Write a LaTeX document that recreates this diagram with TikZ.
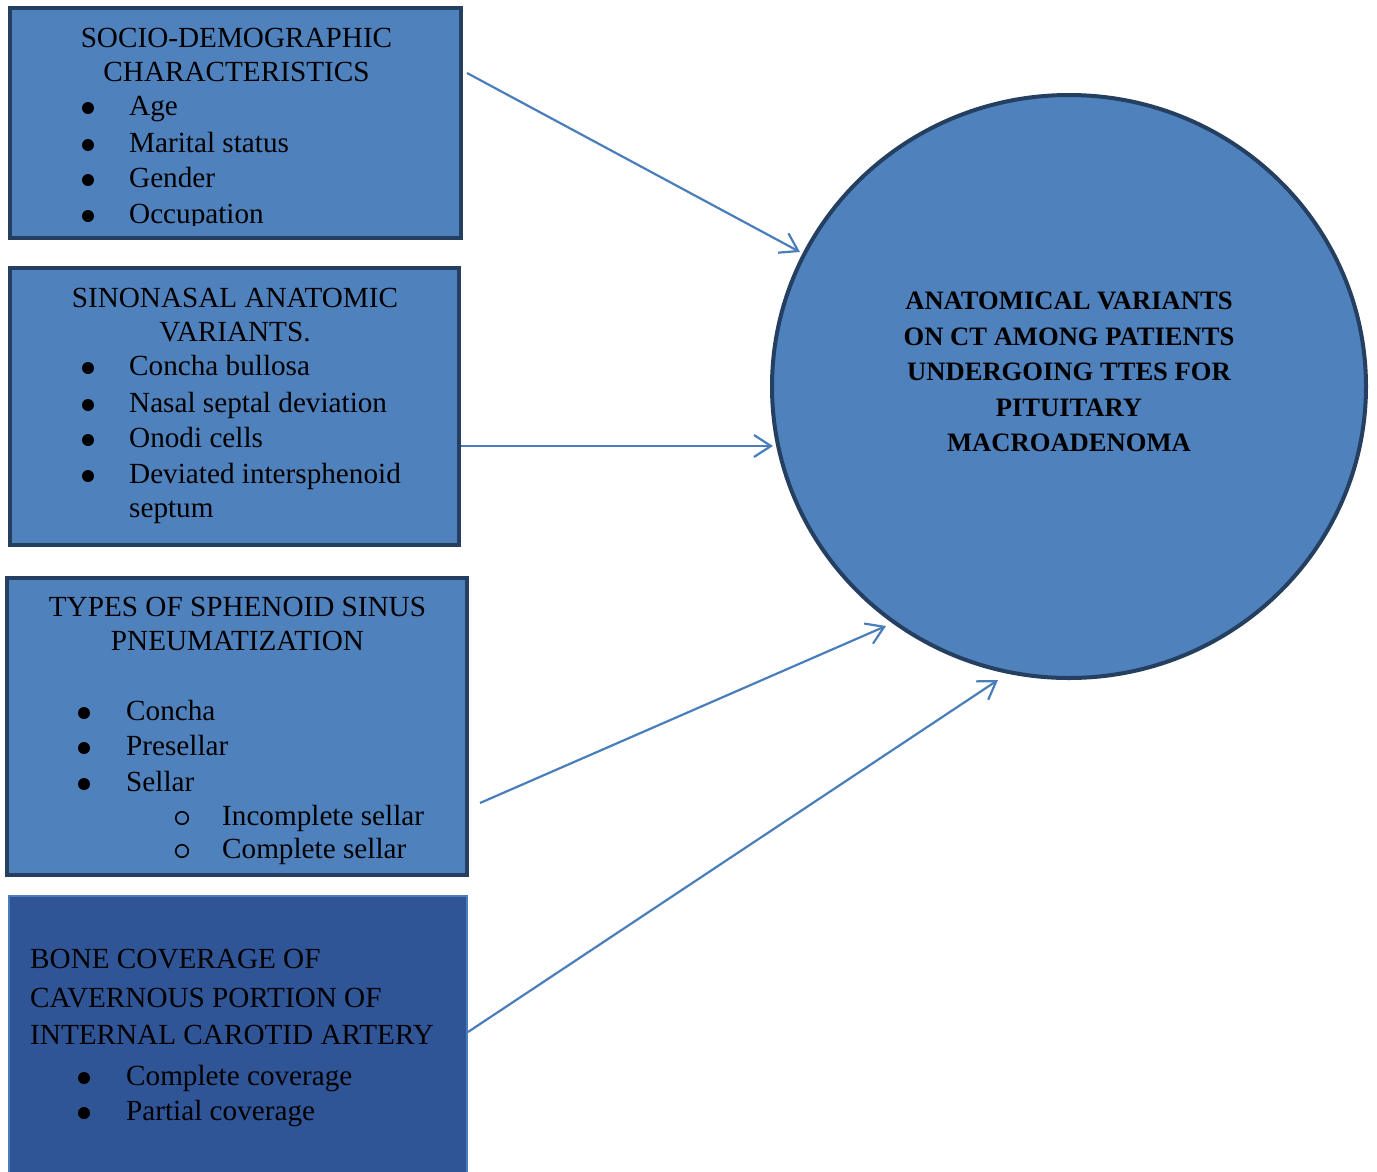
\documentclass[tikz,border=0pt]{standalone}
\usepackage{fontspec}
\setmainfont{Liberation Serif}
\usetikzlibrary{arrows.meta,shapes.geometric}
\definecolor{fillblue}{HTML}{4F81BD}
\definecolor{navy}{HTML}{243F60}
\definecolor{darkfill}{HTML}{2F5597}
\definecolor{arrowblue}{HTML}{4A7EBB}
\begin{document}
\begin{tikzpicture}[x=1pt,y=-1pt,
  box/.style={rectangle,draw=navy,line width=4pt,fill=fillblue,inner sep=0pt},
  darkbox/.style={rectangle,draw=arrowblue,line width=2pt,fill=darkfill,inner sep=0pt},
  ttl/.style={font=\fontsize{29.2}{34}\selectfont,inner sep=0pt,anchor=base},
  txt/.style={font=\fontsize{29.2}{34}\selectfont,inner sep=0pt,anchor=base west},
  bul/.style={circle,fill=black,inner sep=0pt,minimum size=12pt,yshift=7pt},
  sub/.style={circle,draw=black,line width=1.6pt,inner sep=0pt,minimum size=12.5pt,yshift=7pt},
  ctx/.style={font=\fontsize{26.6}{31}\selectfont\bfseries,inner sep=0pt,anchor=base},
  conn/.style={draw=arrowblue,line width=2.2pt,-{Straight Barb[length=17pt,width=22pt,line width=2.2pt]}}]
\useasboundingbox (0,0) rectangle (1377,1171);
\clip (0,0) rectangle (1377,1171);

% boxes
\node[box,minimum width=451pt,minimum height=230pt] (b1) at (235.5,123) {};
\node[box,minimum width=449pt,minimum height=277pt] (b2) at (234.5,406.5) {};
\node[box,minimum width=460pt,minimum height=297pt] (b3) at (237,726.5) {};
\node[darkbox,minimum width=458pt,minimum height=290pt] (b4) at (238,1041) {};
\node[ellipse,draw=navy,line width=4pt,fill=fillblue,inner sep=0pt,
      minimum width=594pt,minimum height=583pt] (circ) at (1069,386.5) {};

% box 1 text
\begin{scope}
\clip (10,8) rectangle (461,225.5);
\node[ttl] (b1t1) at (236.5,47) {SOCIO-DEMOGRAPHIC};
\node[ttl] (b1t2) at (236.5,81) {CHARACTERISTICS};
\node[bul] (b1b1) at (88,115) {};
\node[txt] (b1i1) at (129,115) {Age};
\node[bul] (b1b2) at (88,152) {};
\node[txt] (b1i2) at (129,152) {Marital status};
\node[bul] (b1b3) at (88,187) {};
\node[txt] (b1i3) at (129,187) {Gender};
\node[bul] (b1b4) at (88,223) {};
\node[txt] (b1i4) at (129,223) {Occupation};
\end{scope}

% box 2 text
\node[ttl] (b2t1) at (235,307) {SINONASAL ANATOMIC};
\node[ttl] (b2t2) at (235,341) {VARIANTS.};
\node[bul] (b2b1) at (88,375) {};
\node[txt] (b2i1) at (129,375) {Concha bullosa};
\node[bul] (b2b2) at (88,412) {};
\node[txt] (b2i2) at (129,412) {Nasal septal deviation};
\node[bul] (b2b3) at (88,447) {};
\node[txt] (b2i3) at (129,447) {Onodi cells};
\node[bul] (b2b4) at (88,483) {};
\node[txt] (b2i4) at (129,483) {Deviated intersphenoid};
\node[txt] (b2i5) at (129,517) {septum};

% box 3 text
\node[ttl] (b3t1) at (237.5,616) {TYPES OF SPHENOID SINUS};
\node[ttl] (b3t2) at (237.5,650) {PNEUMATIZATION};
\node[bul] (b3b1) at (84,720) {};
\node[txt] (b3i1) at (126,720) {Concha};
\node[bul] (b3b2) at (84,755) {};
\node[txt] (b3i2) at (126,755) {Presellar};
\node[bul] (b3b3) at (84,791) {};
\node[txt] (b3i3) at (126,791) {Sellar};
\node[sub] (b3s1) at (182,825) {};
\node[txt] (b3j1) at (222,825) {Incomplete sellar};
\node[sub] (b3s2) at (182,858) {};
\node[txt] (b3j2) at (222,858) {Complete sellar};

% box 4 text
\node[txt] (b4t1) at (30,968) {BONE COVERAGE OF};
\node[txt] (b4t2) at (30,1007) {CAVERNOUS PORTION OF};
\node[txt] (b4t3) at (30,1044) {INTERNAL CAROTID ARTERY};
\node[bul] (b4b1) at (84,1085) {};
\node[txt] (b4i1) at (126,1085) {Complete coverage};
\node[bul] (b4b2) at (84,1120) {};
\node[txt] (b4i2) at (126,1120) {Partial coverage};

% circle text
\node[ctx] (c1) at (1069,309) {ANATOMICAL VARIANTS};
\node[ctx] (c2) at (1069,345) {ON CT AMONG PATIENTS};
\node[ctx] (c3) at (1069,380) {UNDERGOING TTES FOR};
\node[ctx] (c4) at (1069,416) {PITUITARY};
\node[ctx] (c5) at (1069,451) {MACROADENOMA};

% connectors
\coordinate (s1) at (467,73);
\coordinate (e1) at (800,252);
\coordinate (s2) at (461,446);
\coordinate (e2) at (773,446);
\coordinate (s3) at (480,803);
\coordinate (e3) at (886,626);
\coordinate (s4) at (468,1032);
\coordinate (e4) at (998,680);
\draw[conn] (s1) -- (e1);
\draw[conn] (s2) -- (e2);
\draw[conn] (s3) -- (e3);
\draw[conn] (s4) -- (e4);
\end{tikzpicture}
\end{document}
